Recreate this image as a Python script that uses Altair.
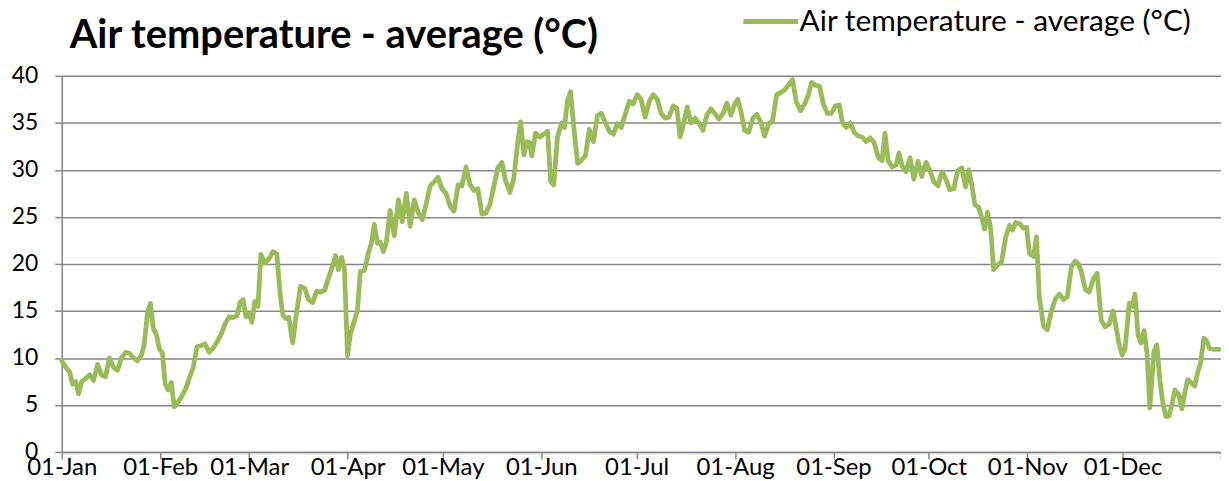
import altair as alt
import pandas as pd

series_name = "Air temperature - average (°C)"

days = [0, 1.3, 2.5, 3.4, 4.4, 5.3, 6.3, 7.5, 8.8, 10.0, 11.3, 12.5, 13.8, 15.0, 16.3, 17.6, 18.8,
        20.1, 21.3, 22.6, 23.8, 25.1, 26.0, 27.0, 27.9, 28.8, 29.8, 30.7, 31.7, 32.6, 33.5, 34.5,
        35.4, 36.4, 37.6, 38.9, 40.1, 41.4, 42.6, 43.9, 45.1, 46.4, 47.6, 48.9, 50.2, 51.4, 52.7,
        53.9, 55.2, 56.1, 57.1, 58.0, 58.9, 59.9, 60.8, 61.8, 62.7, 63.9, 65.2, 66.5, 67.7, 68.7,
        69.6, 70.5, 71.5, 72.7, 74.0, 75.2, 76.5, 77.7, 79.0, 80.3, 81.5, 82.8, 84.0, 85.3, 86.2,
        87.1, 88.1, 89.0, 90.0, 90.9, 92.2, 93.1, 94.0, 95.3, 96.6, 97.5, 98.4, 99.4, 100.3, 101.3,
        102.2, 103.4, 104.7, 106.0, 107.2, 108.5, 109.7, 111.0, 112.2, 113.5, 114.7, 116.0, 117.2,
        118.5, 119.7, 121.0, 122.3, 123.5, 124.8, 126.0, 127.3, 128.5, 129.8, 131.0, 132.3, 133.5,
        134.8, 136.1, 137.3, 138.6, 139.8, 141.1, 142.3, 143.6, 144.5, 145.5, 146.4, 147.3, 148.0,
        149.2, 150.5, 151.7, 153.0, 153.9, 154.9, 156.1, 157.4, 158.3, 159.2, 160.2, 161.1, 162.4,
        163.6, 164.9, 166.1, 167.4, 168.7, 169.9, 171.2, 172.4, 173.7, 174.9, 176.2, 177.4, 178.7,
        179.9, 181.2, 182.4, 183.7, 185.0, 186.2, 187.5, 188.7, 190.0, 191.2, 192.5, 193.7, 194.7,
        195.9, 196.9, 198.1, 199.4, 200.6, 201.9, 203.1, 204.4, 205.6, 206.9, 208.2, 209.4, 210.7,
        211.9, 212.9, 213.8, 215.0, 216.3, 217.6, 218.8, 220.1, 221.3, 222.6, 223.8, 225.1, 226.3,
        227.6, 228.8, 230.1, 231.3, 232.6, 233.9, 235.1, 236.1, 237.3, 238.6, 239.8, 241.1, 242.3,
        243.6, 244.8, 245.8, 247.0, 248.3, 249.5, 250.8, 252.0, 253.3, 254.5, 255.8, 257.1, 258.3,
        259.2, 260.2, 261.4, 262.7, 263.6, 264.6, 265.8, 267.1, 268.3, 269.6, 270.8, 272.1, 273.4,
        274.6, 275.9, 277.1, 278.4, 279.6, 280.9, 282.1, 283.4, 284.6, 285.6, 286.5, 287.5, 288.7,
        289.7, 290.6, 291.5, 292.5, 293.4, 294.7, 295.9, 297.2, 298.4, 299.4, 300.3, 301.6, 302.8,
        303.8, 304.7, 306.0, 306.9, 307.8, 309.1, 310.3, 311.6, 312.9, 314.1, 315.4, 316.6, 317.9,
        319.1, 320.1, 321.0, 322.3, 323.5, 324.8, 326.0, 327.3, 328.5, 329.8, 331.0, 331.7, 332.9,
        333.9, 334.8, 336.1, 337.0, 337.9, 338.9, 339.8, 340.8, 341.7, 342.6, 343.9, 344.8, 345.8,
        346.7, 347.6, 348.6, 349.5, 350.5, 351.7, 352.7, 353.6, 354.5, 355.8, 356.7, 357.7, 358.6,
        359.6, 360.5, 361.4, 362.7, 364.3]

temps = [9.7, 9.0, 8.5, 7.2, 7.5, 6.2, 7.5, 7.8, 8.2, 7.6, 9.3, 8.2, 8.0, 10.0, 9.0, 8.7, 10.0,
         10.6, 10.5, 10.0, 9.7, 10.3, 11.5, 14.8, 15.8, 13.2, 12.5, 11.0, 10.5, 7.2, 6.6, 7.4,
         4.8, 5.2, 5.8, 6.6, 7.8, 9.0, 11.2, 11.3, 11.5, 10.6, 11.0, 11.7, 12.5, 13.6, 14.4,
         14.3, 14.5, 15.9, 16.2, 14.4, 14.8, 13.8, 16.0, 15.5, 21.0, 20.1, 20.5, 21.3, 21.1, 17.0,
         14.6, 14.2, 14.3, 11.6, 15.0, 17.6, 17.4, 16.2, 15.9, 17.1, 17.0, 17.2, 18.5, 19.8, 20.9,
         19.4, 20.7, 19.5, 10.2, 12.6, 14.0, 15.0, 19.2, 19.3, 21.2, 22.2, 24.2, 22.2, 22.3, 21.3,
         22.3, 25.7, 23.0, 26.8, 24.5, 27.5, 24.0, 26.8, 25.5, 24.7, 26.3, 28.3, 28.7,
         29.2, 28.0, 27.5, 26.1, 25.6, 28.4, 28.3, 30.3, 28.5, 27.8, 28.0, 25.3, 25.4,
         26.3, 28.3, 30.2, 30.8, 28.8, 27.6, 29.0, 33.0, 35.1, 31.6, 33.0, 32.9, 31.5,
         33.9, 33.5, 33.8, 34.1, 28.8, 28.4, 33.5, 35.0, 34.5, 37.3, 38.3, 35.0, 30.7,
         31.0, 31.5, 34.3, 33.0, 35.8, 36.0, 35.0, 34.1, 33.8, 34.9, 34.5, 35.9, 37.3,
         37.0, 38.0, 37.5, 35.6, 37.3, 38.0, 37.5, 36.0, 35.5, 35.6, 36.8, 36.5, 33.5,
         35.0, 36.7, 35.0, 35.5, 35.0, 34.2, 35.8, 36.5, 36.0, 35.4, 36.0, 37.1, 35.8,
         37.0, 37.5, 36.3, 34.2, 34.0, 35.5, 35.9, 35.1, 33.6, 34.9, 35.2, 38.0, 38.2,
         38.5, 39.0, 39.6, 37.2, 36.3, 37.0, 38.0, 39.3, 39.0, 38.9, 37.0, 36.0, 36.0,
         36.8, 36.9, 35.0, 34.5, 35.0, 34.0, 33.6, 33.5, 33.0, 33.4, 32.9, 31.3, 31.0,
         33.9, 31.0, 30.3, 30.5, 31.8, 30.4, 29.8, 31.3, 29.0, 30.9, 29.3, 30.8, 29.9,
         28.7, 28.3, 29.8, 29.0, 27.9, 28.0, 29.9, 30.2, 28.2, 30.0, 28.5, 26.3, 26.0,
         24.9, 23.7, 25.5, 23.7, 19.4, 19.9, 20.2, 22.8, 24.1, 23.6, 24.4, 24.3, 23.8,
         23.9, 21.1, 20.8, 22.9, 16.5, 13.4, 13.0, 15.0, 16.3, 16.8, 16.2, 16.5, 19.7,
         20.3, 20.0, 19.2, 17.3, 17.0, 18.4, 19.0, 14.0, 13.3, 13.6, 15.0, 13.8, 11.5,
         10.3, 11.0, 15.8, 15.5, 16.8, 12.4, 11.6, 12.9, 10.5, 4.7, 10.7, 11.4, 7.5,
         5.2, 3.8, 3.8, 5.0, 6.6, 6.1, 4.6, 6.3, 7.7, 7.3, 7.0, 8.5, 9.5,
         12.1, 11.8, 11.0, 10.9, 10.9]

month_days = [0, 31, 59, 90, 120, 151, 181, 212, 243, 273, 304, 334, 365]
month_labels = ["01-Jan", "01-Feb", "01-Mar", "01-Apr", "01-May", "01-Jun", "01-Jul",
                "01-Aug", "01-Sep", "01-Oct", "01-Nov", "01-Dec", ""]
y_ticks = [0, 5, 10, 15, 20, 25, 30, 35, 40]

df = pd.DataFrame({"day": days, "temp": temps, "series": series_name})

FONT = "Lato"
GRID = "#878787"

label_expr = "[" + ",".join("'" + s + "'" for s in month_labels) + "][indexof([" + \
    ",".join(str(d) for d in month_days) + "], datum.value)]"

chart = alt.Chart(df).mark_line(strokeWidth=4.8, strokeJoin="round", strokeCap="round").encode(
    x=alt.X("day:Q",
            scale=alt.Scale(domain=[0, 365], nice=False, zero=False),
            axis=alt.Axis(values=month_days, labelExpr=label_expr, title=None, grid=False,
                          domainColor=GRID, domainWidth=1.5, tickColor=GRID, tickWidth=1.5,
                          tickSize=7, labelFont=FONT, labelFontSize=24, labelColor="#000000",
                          labelPadding=-3, labelFlush=False, labelOverlap=False)),
    y=alt.Y("temp:Q",
            scale=alt.Scale(domain=[0, 40], nice=False),
            axis=alt.Axis(values=y_ticks, title=None, grid=True, gridColor=GRID, gridWidth=1.5,
                          domainColor=GRID, domainWidth=1.5, tickColor=GRID, tickWidth=1.5,
                          tickSize=7, labelFont=FONT, labelFontSize=23, labelColor="#000000",
                          labelPadding=17)),
    color=alt.Color("series:N", scale=alt.Scale(range=["#9BBB59"]),
                    legend=alt.Legend(title=None, orient="none", legendX=697.5, legendY=-69.5,
                                      symbolType="M-5.5,0H5.5", symbolSize=100,
                                      symbolStrokeWidth=5, symbolFillColor="#9BBB59",
                                      labelFont=FONT, labelFontSize=30, labelColor="#000000",
                                      labelOffset=14, labelLimit=700))
).properties(
    width=1165, height=378,
    title=alt.TitleParams(text="Air temperature - average (°C)", anchor="start", frame="group",
                          font=FONT, fontSize=40, fontWeight="bold", color="#000000",
                          offset=-50, dx=8),
    autosize=alt.AutoSizeParams(type="none"),
    padding={"left": 54, "top": 67, "right": 0, "bottom": 28}
).configure_view(strokeWidth=0).configure(background="white")

chart.save("out.html", embed_options={"renderer": "svg", "actions": False})
